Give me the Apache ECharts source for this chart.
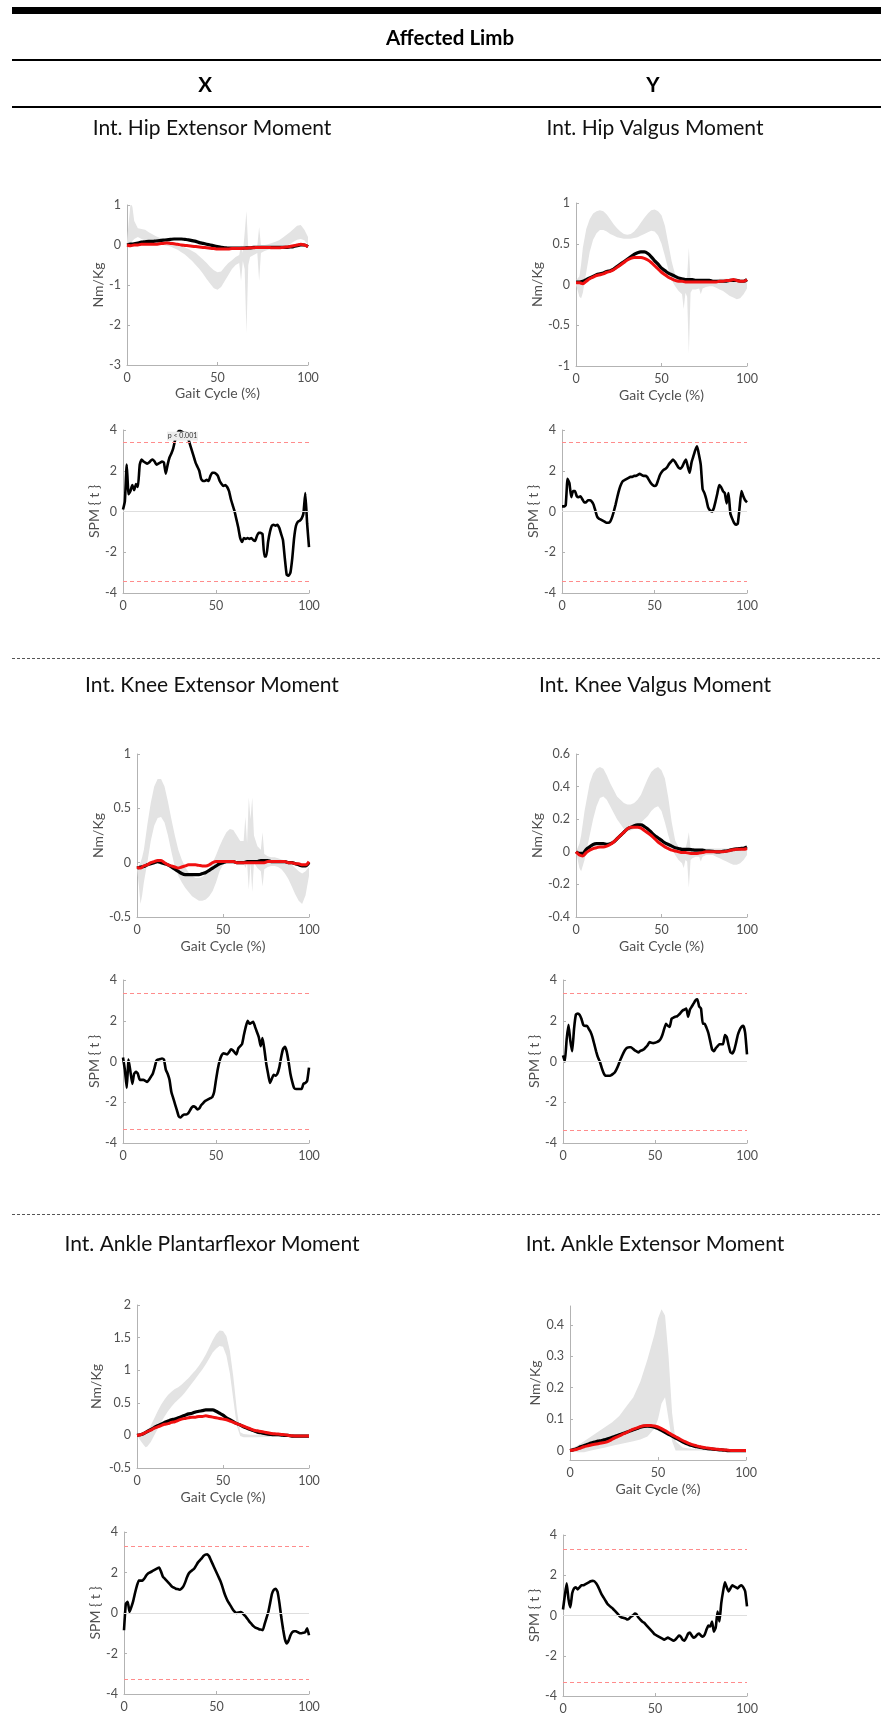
<!DOCTYPE html>
<html>
<head>
<meta charset="utf-8">
<script src="https://cdn.jsdelivr.net/npm/echarts@6/dist/echarts.min.js"></script>
<style>
html,body{margin:0;padding:0;background:#fff}
#chart{width:881px;height:1715px}
</style>
</head>
<body>
<div id="chart"></div>
<script>
// Sampling grids (% of gait cycle)
const meanPct = Array.from({length: 51}, (_, i) => i * 2);
const spmPct = Array.from({length: 101}, (_, i) => i);

// Tick labels
const xTicks = [0, 50, 100];
const spmTicks = [-4, -2, 0, 2, 4];
const hipExtTicks = [-3, -2, -1, 0, 1];
const hipValTicks = [-1, -0.5, 0, 0.5, 1];
const kneeExtTicks = [-0.5, 0, 0.5, 1];
const kneeValTicks = [-0.4, -0.2, 0, 0.2, 0.4, 0.6];
const ankPfTicks = [-0.5, 0, 0.5, 1, 1.5, 2];
const ankExtTicks = [0, 0.1, 0.2, 0.3, 0.4];

// ---- Int. Hip Extensor Moment ----
const hipExtMeanA = [0.0,0.02,0.03,0.05,0.07,0.08,0.09,0.09,0.10,0.11,0.12,0.13,0.14,0.15,0.15,0.15,0.14,0.13,0.11,0.09,0.06,0.04,0.02,0.0,-0.02,-0.04,-0.06,-0.07,-0.08,-0.08,-0.08,-0.08,-0.08,-0.07,-0.07,-0.06,-0.06,-0.06,-0.06,-0.06,-0.06,-0.06,-0.06,-0.06,-0.06,-0.05,-0.04,-0.02,0.0,0.0,-0.04];
const hipExtMeanB = [0.0,-0.02,0.0,0.0,0.02,0.02,0.02,0.02,0.02,0.03,0.04,0.05,0.04,0.03,0.02,0.0,-0.01,-0.02,-0.03,-0.04,-0.05,-0.06,-0.07,-0.08,-0.09,-0.1,-0.1,-0.1,-0.1,-0.09,-0.09,-0.09,-0.08,-0.08,-0.07,-0.07,-0.06,-0.06,-0.06,-0.06,-0.07,-0.07,-0.07,-0.06,-0.05,-0.04,-0.02,0.0,0.02,0.0,-0.04];
const hipExtBand = [[0,-0.05,0.1],[1,-0.05,0.6],[2,0.0,1.05],[3,0.1,0.95],[4,0.15,0.6],[6,0.2,0.42],[8,0.15,0.4],[10,0.12,0.38],[12,0.1,0.32],[14,0.08,0.27],[16,0.05,0.22],[18,0.02,0.18],[20,0.0,0.15],[22,-0.02,0.12],[24,-0.04,0.1],[26,-0.08,0.06],[28,-0.12,0.02],[30,-0.18,-0.02],[32,-0.24,-0.06],[34,-0.32,-0.1],[36,-0.4,-0.15],[38,-0.5,-0.2],[40,-0.6,-0.28],[42,-0.72,-0.36],[44,-0.85,-0.45],[46,-0.97,-0.55],[48,-1.08,-0.63],[50,-1.12,-0.68],[52,-1.05,-0.66],[54,-0.9,-0.55],[56,-0.75,-0.45],[58,-0.6,-0.38],[60,-0.5,-0.3],[62,-0.45,-0.25],[63,-0.9,0.0],[64,-0.4,-0.2],[65,-0.6,0.3],[66,-2.2,0.85],[67,-0.5,-0.1],[68,-0.3,-0.1],[70,-0.25,-0.05],[72,-0.2,-0.02],[73,-0.9,0.45],[74,-0.2,0.0],[76,-0.15,0.0],[78,-0.12,0.02],[80,-0.1,0.05],[82,-0.1,0.08],[84,-0.08,0.12],[86,-0.05,0.18],[88,-0.02,0.25],[90,0.02,0.32],[92,0.08,0.4],[94,0.13,0.48],[96,0.15,0.5],[98,0.12,0.38],[100,0.0,0.2]];
const hipExtSpm = [0.1,0.5,2.3,0.85,1.0,1.3,1.05,1.35,1.2,2.3,2.55,2.45,2.4,2.35,2.4,2.5,2.55,2.45,2.3,2.35,2.4,2.45,2.4,1.85,2.3,2.65,2.85,3.1,3.5,3.8,3.95,3.95,3.9,3.85,3.85,3.6,3.3,3.0,2.7,2.4,2.2,2.0,1.6,1.5,1.5,1.55,1.5,1.75,1.9,1.9,1.85,1.75,1.5,1.35,1.25,1.3,1.2,1.0,0.6,0.3,0.0,-0.4,-0.8,-1.3,-1.5,-1.3,-1.35,-1.3,-1.35,-1.3,-1.4,-1.45,-1.2,-1.05,-1.05,-1.1,-2.2,-2.2,-1.5,-1.0,-0.7,-0.65,-0.7,-0.65,-0.8,-1.1,-1.4,-2.3,-3.1,-3.15,-3.0,-2.3,-1.3,-0.7,-0.5,-0.45,-0.35,-0.1,0.9,-0.6,-1.75];

// ---- Int. Hip Valgus Moment ----
const hipValMeanA = [0.03,0.03,0.04,0.06,0.08,0.1,0.12,0.13,0.14,0.16,0.17,0.19,0.22,0.25,0.28,0.31,0.34,0.37,0.39,0.4,0.4,0.38,0.34,0.29,0.25,0.2,0.17,0.14,0.12,0.1,0.08,0.07,0.06,0.06,0.06,0.05,0.05,0.05,0.05,0.05,0.04,0.04,0.04,0.04,0.04,0.05,0.05,0.05,0.04,0.04,0.06];
const hipValMeanB = [0.02,0.02,0.01,0.04,0.07,0.09,0.11,0.12,0.13,0.15,0.16,0.18,0.21,0.24,0.27,0.3,0.32,0.33,0.33,0.33,0.32,0.3,0.27,0.23,0.19,0.15,0.12,0.09,0.07,0.05,0.04,0.04,0.03,0.03,0.03,0.03,0.03,0.03,0.03,0.03,0.03,0.03,0.04,0.04,0.05,0.05,0.06,0.05,0.04,0.04,0.06];
const hipValBand = [[0,0.0,0.05],[2,-0.15,0.1],[3,-0.17,0.25],[4,-0.1,0.45],[6,0.15,0.68],[8,0.4,0.8],[10,0.55,0.87],[12,0.63,0.9],[14,0.67,0.91],[16,0.67,0.9],[18,0.65,0.86],[20,0.62,0.8],[22,0.6,0.74],[24,0.58,0.69],[26,0.57,0.65],[28,0.56,0.62],[30,0.56,0.61],[32,0.56,0.62],[34,0.57,0.65],[36,0.58,0.7],[38,0.6,0.76],[40,0.62,0.82],[42,0.64,0.87],[44,0.66,0.91],[46,0.65,0.92],[48,0.6,0.9],[50,0.5,0.85],[52,0.35,0.72],[54,0.18,0.5],[56,0.05,0.28],[58,-0.02,0.12],[60,-0.08,0.07],[62,-0.12,0.05],[63,-0.3,0.05],[64,-0.1,0.05],[65,-0.15,0.1],[66,-0.85,0.45],[67,-0.1,0.05],[68,-0.06,0.05],[70,-0.06,0.05],[72,-0.05,0.05],[73,-0.12,0.06],[74,-0.05,0.05],[76,-0.03,0.05],[78,-0.02,0.05],[80,-0.02,0.06],[82,-0.04,0.06],[84,-0.06,0.07],[86,-0.08,0.07],[88,-0.11,0.07],[90,-0.14,0.07],[92,-0.16,0.06],[94,-0.18,0.05],[96,-0.17,0.04],[98,-0.12,0.04],[100,-0.05,0.08]];
const hipValSpm = [0.25,0.25,0.3,1.6,1.4,0.7,1.0,1.0,0.75,0.7,0.75,0.6,0.45,0.45,0.55,0.55,0.5,0.35,0.05,-0.25,-0.35,-0.4,-0.45,-0.5,-0.55,-0.55,-0.5,-0.3,0.0,0.35,0.75,1.1,1.35,1.5,1.55,1.6,1.65,1.7,1.7,1.75,1.75,1.8,1.85,1.8,1.75,1.75,1.7,1.55,1.4,1.3,1.25,1.3,1.55,1.8,1.95,2.05,2.1,2.2,2.35,2.45,2.55,2.45,2.3,2.15,2.1,2.2,2.4,2.55,2.2,1.9,2.4,2.7,3.0,3.2,2.8,2.3,1.1,0.9,0.6,0.2,0.05,0.0,0.15,0.5,0.9,1.3,1.2,1.0,0.9,0.4,0.9,-0.1,-0.35,-0.55,-0.65,-0.6,0.2,1.0,0.75,0.55,0.45];

// ---- Int. Knee Extensor Moment ----
const kneeExtMeanA = [-0.05,-0.04,-0.035,-0.02,-0.01,0.0,0.01,0.0,-0.01,-0.02,-0.04,-0.06,-0.08,-0.1,-0.11,-0.11,-0.11,-0.11,-0.11,-0.1,-0.09,-0.07,-0.05,-0.03,-0.01,0.0,0.01,0.01,0.01,0.0,0.0,0.0,0.01,0.01,0.01,0.01,0.02,0.02,0.02,0.01,0.01,0.01,0.01,0.01,0.0,0.0,-0.01,-0.02,-0.03,-0.03,0.0];
const kneeExtMeanB = [-0.04,-0.05,-0.03,-0.02,0.0,0.01,0.02,0.02,0.0,-0.02,-0.03,-0.04,-0.05,-0.04,-0.03,-0.02,-0.02,-0.02,-0.025,-0.03,-0.03,-0.02,0.0,0.01,0.01,0.01,0.01,0.01,0.01,0.0,0.0,0.0,0.0,0.0,0.0,0.0,0.0,0.0,0.01,0.01,0.01,0.01,0.01,0.01,0.0,0.0,-0.01,-0.01,-0.02,-0.02,0.01];
const kneeExtBand = [[0,-0.05,-0.02],[1,-0.2,-0.03],[2,-0.38,0.0],[3,-0.3,0.05],[4,-0.18,0.12],[6,0.0,0.35],[8,0.2,0.55],[10,0.34,0.7],[12,0.41,0.77],[14,0.42,0.77],[16,0.37,0.7],[18,0.25,0.56],[20,0.1,0.4],[22,-0.04,0.25],[24,-0.12,0.12],[26,-0.18,0.03],[28,-0.23,-0.04],[30,-0.27,-0.09],[32,-0.31,-0.12],[34,-0.33,-0.14],[36,-0.35,-0.14],[38,-0.35,-0.13],[40,-0.34,-0.1],[42,-0.31,-0.06],[44,-0.26,0.0],[46,-0.18,0.07],[48,-0.08,0.15],[50,-0.02,0.22],[52,0.0,0.28],[54,0.02,0.31],[56,0.02,0.3],[58,0.02,0.25],[60,0.0,0.2],[62,0.0,0.2],[63,-0.05,0.42],[64,0.0,0.18],[65,-0.25,0.6],[66,0.0,0.4],[67,-0.27,0.6],[68,0.0,0.25],[70,-0.05,0.15],[72,-0.08,0.12],[73,-0.22,0.28],[74,-0.06,0.08],[76,-0.04,0.06],[78,-0.03,0.05],[80,-0.03,0.05],[82,-0.04,0.04],[84,-0.06,0.03],[86,-0.1,0.02],[88,-0.15,0.0],[90,-0.22,-0.02],[92,-0.29,-0.05],[94,-0.35,-0.08],[96,-0.38,-0.1],[98,-0.3,-0.08],[100,-0.12,-0.04]];
const kneeExtSpm = [0.2,-0.4,-1.3,0.1,-0.5,-1.1,-0.6,-0.5,-0.6,-0.9,-0.9,-0.9,-0.95,-1.0,-0.9,-0.75,-0.6,-0.3,0.05,0.1,0.12,0.15,0.1,-0.4,-0.6,-0.9,-1.5,-1.8,-2.1,-2.4,-2.7,-2.75,-2.65,-2.6,-2.6,-2.55,-2.4,-2.25,-2.2,-2.25,-2.35,-2.3,-2.15,-2.05,-1.95,-1.9,-1.85,-1.8,-1.75,-1.5,-0.9,-0.35,0.05,0.3,0.4,0.38,0.35,0.45,0.6,0.55,0.45,0.35,0.65,0.75,0.85,1.3,1.7,2.0,1.85,1.9,1.95,1.7,1.45,1.2,0.75,1.15,0.6,-0.1,-0.6,-1.05,-0.85,-0.65,-0.7,-0.6,-0.3,0.2,0.6,0.72,0.5,0.0,-0.6,-1.0,-1.3,-1.35,-1.35,-1.35,-1.35,-1.1,-1.05,-0.95,-0.3];

// ---- Int. Knee Valgus Moment ----
const kneeValMeanA = [0.0,-0.01,-0.01,0.015,0.03,0.045,0.05,0.05,0.05,0.045,0.05,0.06,0.08,0.1,0.12,0.14,0.15,0.16,0.165,0.165,0.155,0.14,0.12,0.1,0.085,0.07,0.055,0.045,0.035,0.025,0.02,0.015,0.015,0.015,0.012,0.01,0.01,0.01,0.005,0.005,0.003,0.0,0.0,0.003,0.005,0.01,0.015,0.018,0.02,0.022,0.03];
const kneeValMeanB = [0.0,-0.02,-0.025,-0.005,0.01,0.02,0.025,0.03,0.03,0.035,0.045,0.06,0.08,0.1,0.12,0.14,0.15,0.15,0.15,0.145,0.13,0.115,0.1,0.08,0.06,0.045,0.03,0.02,0.01,0.005,0.0,-0.005,-0.005,-0.008,-0.01,-0.01,-0.008,-0.005,0.0,0.0,0.0,0.0,0.0,0.0,0.003,0.008,0.012,0.015,0.015,0.015,0.02];
const kneeValBand = [[0,0.0,0.0],[2,-0.1,0.05],[3,-0.12,0.1],[5,-0.05,0.25],[8,0.1,0.42],[10,0.2,0.48],[12,0.28,0.51],[14,0.33,0.52],[16,0.34,0.51],[18,0.32,0.47],[20,0.28,0.42],[22,0.24,0.38],[24,0.2,0.34],[26,0.17,0.32],[28,0.14,0.3],[30,0.13,0.29],[32,0.13,0.29],[34,0.14,0.3],[36,0.16,0.32],[38,0.18,0.35],[40,0.2,0.4],[42,0.22,0.45],[44,0.25,0.49],[46,0.27,0.51],[48,0.28,0.52],[50,0.25,0.5],[52,0.18,0.45],[54,0.1,0.33],[56,0.03,0.18],[58,-0.02,0.07],[60,-0.05,0.03],[62,-0.07,0.02],[63,-0.1,0.02],[64,-0.05,0.02],[65,-0.06,0.06],[66,-0.22,0.12],[67,-0.05,0.02],[68,-0.04,0.02],[70,-0.03,0.02],[72,-0.03,0.02],[73,-0.06,0.02],[74,-0.03,0.02],[76,-0.02,0.02],[78,-0.02,0.02],[80,-0.02,0.02],[82,-0.03,0.02],[84,-0.04,0.02],[86,-0.05,0.02],[88,-0.06,0.02],[90,-0.07,0.02],[92,-0.08,0.02],[94,-0.08,0.02],[96,-0.07,0.02],[98,-0.05,0.02],[100,-0.02,0.03]];
const kneeValSpm = [0.3,0.0,1.1,1.8,1.0,0.5,1.6,2.3,2.35,2.3,2.1,1.8,1.75,1.75,1.6,1.45,1.2,0.85,0.5,0.2,0.0,-0.3,-0.55,-0.7,-0.7,-0.7,-0.68,-0.62,-0.55,-0.4,-0.2,0.05,0.25,0.45,0.6,0.68,0.7,0.7,0.62,0.55,0.5,0.45,0.52,0.55,0.6,0.7,0.8,0.95,0.92,0.9,0.92,0.95,1.0,1.1,1.3,1.6,1.85,1.75,1.7,2.1,2.15,2.2,2.22,2.3,2.4,2.5,2.55,2.6,2.2,2.55,2.7,2.85,3.0,3.05,2.7,2.6,1.85,1.85,1.65,1.4,1.0,0.6,0.5,0.65,0.75,0.85,0.85,0.85,1.3,1.2,0.8,0.45,0.4,0.55,0.9,1.3,1.55,1.7,1.75,1.4,0.35];

// ---- Int. Ankle Plantarflexor Moment ----
const ankPfMeanA = [0.0,0.01,0.03,0.06,0.09,0.12,0.15,0.17,0.2,0.22,0.24,0.25,0.27,0.29,0.31,0.33,0.34,0.36,0.37,0.38,0.39,0.39,0.39,0.37,0.34,0.31,0.27,0.24,0.21,0.18,0.16,0.13,0.11,0.09,0.07,0.05,0.04,0.03,0.02,0.015,0.01,0.01,0.005,0.0,0.0,-0.01,-0.01,-0.01,-0.01,-0.01,-0.01];
const ankPfMeanB = [0.0,0.01,0.03,0.06,0.08,0.11,0.13,0.15,0.17,0.18,0.2,0.21,0.23,0.25,0.26,0.27,0.28,0.28,0.29,0.29,0.3,0.29,0.28,0.27,0.26,0.25,0.24,0.22,0.2,0.18,0.16,0.14,0.12,0.1,0.08,0.07,0.06,0.05,0.04,0.03,0.025,0.02,0.015,0.01,0.0,-0.005,-0.01,-0.01,-0.01,-0.01,-0.01];
const ankPfBand = [[0,0.0,0.0],[2,-0.08,0.0],[4,-0.15,0.02],[5,-0.18,0.03],[6,-0.17,0.06],[8,-0.1,0.15],[10,0.0,0.26],[12,0.1,0.37],[14,0.2,0.47],[16,0.29,0.55],[18,0.37,0.62],[20,0.44,0.67],[22,0.5,0.71],[24,0.55,0.74],[26,0.6,0.78],[28,0.66,0.83],[30,0.73,0.88],[32,0.8,0.94],[34,0.87,1.0],[36,0.94,1.07],[38,1.01,1.15],[40,1.09,1.24],[42,1.18,1.35],[44,1.27,1.46],[46,1.33,1.55],[48,1.37,1.61],[50,1.36,1.6],[52,1.22,1.52],[54,0.95,1.3],[56,0.55,0.9],[58,0.15,0.4],[60,-0.01,0.05],[62,-0.03,0.02],[66,-0.03,0.01],[70,-0.03,0.01],[80,-0.02,0.01],[90,-0.02,0.0],[100,-0.02,0.0]];
const ankPfSpm = [-0.85,0.45,0.55,0.05,0.3,0.6,1.0,1.35,1.6,1.6,1.6,1.7,1.85,1.95,2.0,2.05,2.1,2.15,2.2,2.25,2.05,1.8,1.7,1.6,1.5,1.4,1.3,1.25,1.2,1.18,1.15,1.2,1.3,1.5,1.75,1.95,2.05,2.12,2.2,2.35,2.5,2.6,2.7,2.82,2.88,2.9,2.8,2.6,2.4,2.2,2.0,1.8,1.6,1.35,1.05,0.8,0.6,0.45,0.3,0.15,0.05,0.0,0.03,0.05,0.0,-0.1,-0.2,-0.32,-0.45,-0.55,-0.65,-0.72,-0.75,-0.8,-0.82,-0.85,-0.55,-0.25,0.05,0.5,0.95,1.15,1.2,1.05,0.5,-0.2,-0.8,-1.3,-1.5,-1.35,-1.1,-0.95,-0.9,-0.9,-0.95,-1.0,-1.0,-0.98,-0.95,-0.75,-1.1];

// ---- Int. Ankle Extensor Moment ----
const ankExtMeanA = [0.0,0.003,0.007,0.012,0.016,0.02,0.024,0.027,0.03,0.032,0.035,0.038,0.042,0.046,0.05,0.054,0.058,0.062,0.066,0.07,0.074,0.077,0.078,0.077,0.074,0.07,0.064,0.058,0.052,0.046,0.04,0.034,0.028,0.022,0.018,0.015,0.012,0.01,0.008,0.006,0.005,0.004,0.003,0.002,0.001,0.0,0.0,0.0,0.0,0.0,0.0];
const ankExtMeanB = [0.0,0.002,0.004,0.008,0.012,0.015,0.018,0.02,0.022,0.024,0.026,0.03,0.036,0.042,0.047,0.052,0.057,0.063,0.068,0.072,0.076,0.079,0.08,0.08,0.078,0.075,0.07,0.064,0.057,0.05,0.044,0.038,0.032,0.027,0.022,0.018,0.015,0.012,0.01,0.008,0.007,0.005,0.004,0.003,0.002,0.001,0.0,0.0,0.0,0.0,0.0];
const ankExtBand = [[0,0.0,0.005],[4,-0.005,0.015],[8,-0.005,0.03],[12,0.0,0.045],[16,0.005,0.06],[20,0.01,0.075],[24,0.015,0.09],[28,0.02,0.11],[32,0.025,0.14],[36,0.03,0.17],[40,0.035,0.22],[44,0.045,0.29],[48,0.07,0.37],[50,0.1,0.42],[52,0.15,0.45],[54,0.17,0.43],[56,0.1,0.3],[58,0.03,0.12],[60,0.0,0.03],[64,0.0,0.01],[70,0.0,0.005],[80,0.0,0.003],[90,0.0,0.002],[100,0.0,0.002]];
const ankExtSpm = [0.3,1.0,1.6,0.8,0.4,1.1,1.35,1.4,1.3,1.4,1.5,1.5,1.55,1.6,1.65,1.7,1.72,1.7,1.6,1.45,1.25,1.05,0.9,0.75,0.6,0.5,0.42,0.35,0.25,0.15,0.05,-0.05,-0.1,-0.12,-0.15,-0.2,-0.15,-0.05,0.0,0.1,0.05,-0.1,-0.2,-0.3,-0.35,-0.45,-0.55,-0.65,-0.75,-0.85,-0.95,-1.0,-1.05,-1.1,-1.15,-1.2,-1.15,-1.1,-1.15,-1.2,-1.25,-1.2,-1.1,-1.0,-1.05,-1.2,-1.25,-1.1,-0.9,-0.85,-1.0,-1.1,-1.05,-0.95,-0.9,-1.0,-1.05,-0.95,-0.7,-0.5,-0.55,-0.3,-0.8,-0.6,0.2,-0.3,0.6,1.2,1.65,1.4,1.2,1.35,1.5,1.45,1.4,1.35,1.45,1.5,1.4,1.2,0.45];

// Critical SPM{t} thresholds
const spmThresholds = [3.41, 3.40, 3.34, 3.36, 3.28, 3.30];

// ---------------- layout & drawing ----------------
const FONT = 'Lato, "Open Sans", sans-serif';
const AXIS_COLOR = '#b3b3b3';
const LABEL_COLOR = '#505050';
const TICK_SIZE = 12.5;
const NAME_SIZE = 14;

const panels = [
  {title: 'Int. Hip Extensor Moment', tx: 212, ty: 128,
   mGrid: {left: 127, top: 205, width: 181, height: 160}, yMin: -3, yMax: 1, yTicks: hipExtTicks, yGap: 20, xGap: 21,
   a: hipExtMeanA, b: hipExtMeanB, band: hipExtBand,
   sGrid: {left: 123, top: 430, width: 186, height: 163}, sGap: 21, spm: hipExtSpm, thr: spmThresholds[0], note: true},
  {title: 'Int. Hip Valgus Moment', tx: 655, ty: 128,
   mGrid: {left: 576, top: 203, width: 171, height: 163}, yMin: -1, yMax: 1, yTicks: hipValTicks, yGap: 29, xGap: 22,
   a: hipValMeanA, b: hipValMeanB, band: hipValBand,
   sGrid: {left: 562, top: 430, width: 185, height: 163}, sGap: 18, spm: hipValSpm, thr: spmThresholds[1]},
  {title: 'Int. Knee Extensor Moment', tx: 212, ty: 685,
   mGrid: {left: 137, top: 754, width: 172, height: 163}, yMin: -0.5, yMax: 1, yTicks: kneeExtTicks, yGap: 30, xGap: 22,
   a: kneeExtMeanA, b: kneeExtMeanB, band: kneeExtBand,
   sGrid: {left: 123, top: 980, width: 186, height: 163}, sGap: 19, spm: kneeExtSpm, thr: spmThresholds[2]},
  {title: 'Int. Knee Valgus Moment', tx: 655, ty: 685,
   mGrid: {left: 576, top: 754, width: 171, height: 163}, yMin: -0.4, yMax: 0.6, yTicks: kneeValTicks, yGap: 29, xGap: 22,
   a: kneeValMeanA, b: kneeValMeanB, band: kneeValBand,
   sGrid: {left: 563, top: 980, width: 184, height: 163}, sGap: 19, spm: kneeValSpm, thr: spmThresholds[3]},
  {title: 'Int. Ankle Plantarflexor Moment', tx: 212, ty: 1244,
   mGrid: {left: 137, top: 1305, width: 172, height: 163}, yMin: -0.5, yMax: 2, yTicks: ankPfTicks, yGap: 34, xGap: 22,
   a: ankPfMeanA, b: ankPfMeanB, band: ankPfBand,
   sGrid: {left: 124, top: 1532, width: 185, height: 162}, sGap: 22, spm: ankPfSpm, thr: spmThresholds[4]},
  {title: 'Int. Ankle Extensor Moment', tx: 655, ty: 1244,
   mGrid: {left: 570, top: 1306, width: 176, height: 154}, yMin: -0.03, yMax: 0.46, yTicks: ankExtTicks, yGap: 23, xGap: 22,
   a: ankExtMeanA, b: ankExtMeanB, band: ankExtBand,
   sGrid: {left: 563, top: 1535, width: 184, height: 161}, sGap: 20, spm: ankExtSpm, thr: spmThresholds[5]}
];

const grids = [], xAxes = [], yAxes = [], series = [];

function addGrid(g) {
  grids.push(Object.assign({containLabel: false, outerBoundsMode: 'none'}, g));
  return grids.length - 1;
}

function xAxisCfg(gi, name, gap) {
  return {
    type: 'value', gridIndex: gi, min: 0, max: 100,
    axisLine: {show: true, onZero: false, lineStyle: {color: AXIS_COLOR, width: 1}},
    axisTick: {show: true, inside: true, length: 3, lineStyle: {color: AXIS_COLOR}, customValues: xTicks},
    axisLabel: {color: LABEL_COLOR, fontSize: TICK_SIZE, fontFamily: FONT, margin: 6, customValues: xTicks},
    splitLine: {show: false},
    name: name || '', nameLocation: 'middle', nameGap: gap || 20,
    nameTextStyle: {color: LABEL_COLOR, fontSize: NAME_SIZE, fontFamily: FONT}
  };
}

function yAxisCfg(gi, min, max, ticks, name, gap) {
  return {
    type: 'value', gridIndex: gi, min: min, max: max,
    axisLine: {show: true, onZero: false, lineStyle: {color: AXIS_COLOR, width: 1}},
    axisTick: {show: true, inside: true, length: 3, lineStyle: {color: AXIS_COLOR}, customValues: ticks},
    axisLabel: {color: LABEL_COLOR, fontSize: TICK_SIZE, fontFamily: FONT, margin: 6, customValues: ticks},
    splitLine: {show: false},
    name: name, nameLocation: 'middle', nameGap: gap, nameRotate: 90,
    nameTextStyle: {color: LABEL_COLOR, fontSize: NAME_SIZE, fontFamily: FONT}
  };
}

// Shaded normative corridor: one polygon through the upper edge and back along the lower edge
function bandSeries(gi, band) {
  return {
    type: 'custom', xAxisIndex: gi, yAxisIndex: gi, silent: true, z: 1,
    encode: {x: 0, y: [1, 2]},
    data: band,
    renderItem: (params, api) => {
      if (params.dataIndex !== 0) return null;
      const upper = band.map(r => api.coord([r[0], r[2]]));
      const lower = band.map(r => api.coord([r[0], r[1]])).reverse();
      const cs = params.coordSys;
      return {
        type: 'polygon',
        shape: {points: upper.concat(lower)},
        style: {fill: '#e3e3e3', stroke: null},
        clipPath: {type: 'rect', shape: {x: cs.x, y: cs.y, width: cs.width, height: cs.height}}
      };
    }
  };
}

panels.forEach(p => {
  // moment panel: normative corridor + two group means
  const gm = addGrid(p.mGrid);
  xAxes.push(xAxisCfg(gm, 'Gait Cycle (%)', p.xGap));
  yAxes.push(yAxisCfg(gm, p.yMin, p.yMax, p.yTicks, 'Nm/Kg', p.yGap));
  series.push(bandSeries(gm, p.band));
  series.push({
    type: 'line', xAxisIndex: gm, yAxisIndex: gm, smooth: 0.3, symbol: 'none', silent: true, z: 3,
    data: meanPct.map((x, i) => [x, p.a[i]]), lineStyle: {color: '#000000', width: 3.2}
  });
  series.push({
    type: 'line', xAxisIndex: gm, yAxisIndex: gm, smooth: 0.3, symbol: 'none', silent: true, z: 4,
    data: meanPct.map((x, i) => [x, p.b[i]]), lineStyle: {color: '#f01010', width: 3}
  });

  // SPM{t} panel
  const gs = addGrid(p.sGrid);
  xAxes.push(xAxisCfg(gs, '', 20));
  yAxes.push(yAxisCfg(gs, -4, 4, spmTicks, 'SPM { t }', p.sGap));
  series.push({
    type: 'line', xAxisIndex: gs, yAxisIndex: gs, data: [], silent: true, z: 1,
    markLine: {
      silent: true, symbol: 'none', label: {show: false}, animation: false,
      data: [
        {yAxis: 0, lineStyle: {color: '#dedede', width: 1, type: 'solid'}},
        {yAxis: p.thr, lineStyle: {color: '#ff8c8c', width: 1, type: [4, 3]}},
        {yAxis: -p.thr, lineStyle: {color: '#ff8c8c', width: 1, type: [4, 3]}}
      ]
    }
  });
  const spmSeries = {
    type: 'line', xAxisIndex: gs, yAxisIndex: gs, smooth: 0.15, symbol: 'none', silent: true, z: 3,
    data: spmPct.map((x, i) => [x, p.spm[i]]), lineStyle: {color: '#000000', width: 2.6}
  };
  if (p.note) {
    spmSeries.markPoint = {
      silent: true, animation: false,
      data: [{
        coord: [32, 3.7], symbol: 'rect', symbolSize: [31, 9],
        itemStyle: {color: '#ececec'},
        label: {show: true, position: 'inside', formatter: 'p < 0.001', fontSize: 7, color: '#333', fontFamily: FONT}
      }]
    };
  }
  series.push(spmSeries);
});

// page furniture: header rules, column labels, panel titles, row separators
const graphic = [
  {type: 'rect', shape: {x: 12, y: 7, width: 869, height: 7}, style: {fill: '#000'}},
  {type: 'text', x: 450, y: 38, style: {text: 'Affected Limb', align: 'center', verticalAlign: 'middle', fontSize: 20.5, fontWeight: 'bold', fontFamily: FONT, fill: '#000'}},
  {type: 'rect', shape: {x: 12, y: 59, width: 869, height: 2}, style: {fill: '#000'}},
  {type: 'text', x: 205, y: 85, style: {text: 'X', align: 'center', verticalAlign: 'middle', fontSize: 20.5, fontWeight: 'bold', fontFamily: FONT, fill: '#000'}},
  {type: 'text', x: 653, y: 85, style: {text: 'Y', align: 'center', verticalAlign: 'middle', fontSize: 20.5, fontWeight: 'bold', fontFamily: FONT, fill: '#000'}},
  {type: 'rect', shape: {x: 12, y: 106, width: 869, height: 2}, style: {fill: '#000'}},
  {type: 'line', shape: {x1: 12, y1: 658.5, x2: 881, y2: 658.5}, style: {stroke: '#555', lineWidth: 1, lineDash: [3, 2]}},
  {type: 'line', shape: {x1: 12, y1: 1214.5, x2: 881, y2: 1214.5}, style: {stroke: '#555', lineWidth: 1, lineDash: [3, 2]}}
];
panels.forEach(p => {
  graphic.push({type: 'text', x: p.tx, y: p.ty, style: {text: p.title, align: 'center', verticalAlign: 'middle', fontSize: 21, fontFamily: FONT, fill: '#111'}});
});

const chart = echarts.init(document.getElementById('chart'), null, {renderer: 'canvas', width: 881, height: 1715});
chart.setOption({
  backgroundColor: '#ffffff',
  animation: false,
  grid: grids,
  xAxis: xAxes,
  yAxis: yAxes,
  series: series,
  graphic: graphic
});
</script>
</body>
</html>
